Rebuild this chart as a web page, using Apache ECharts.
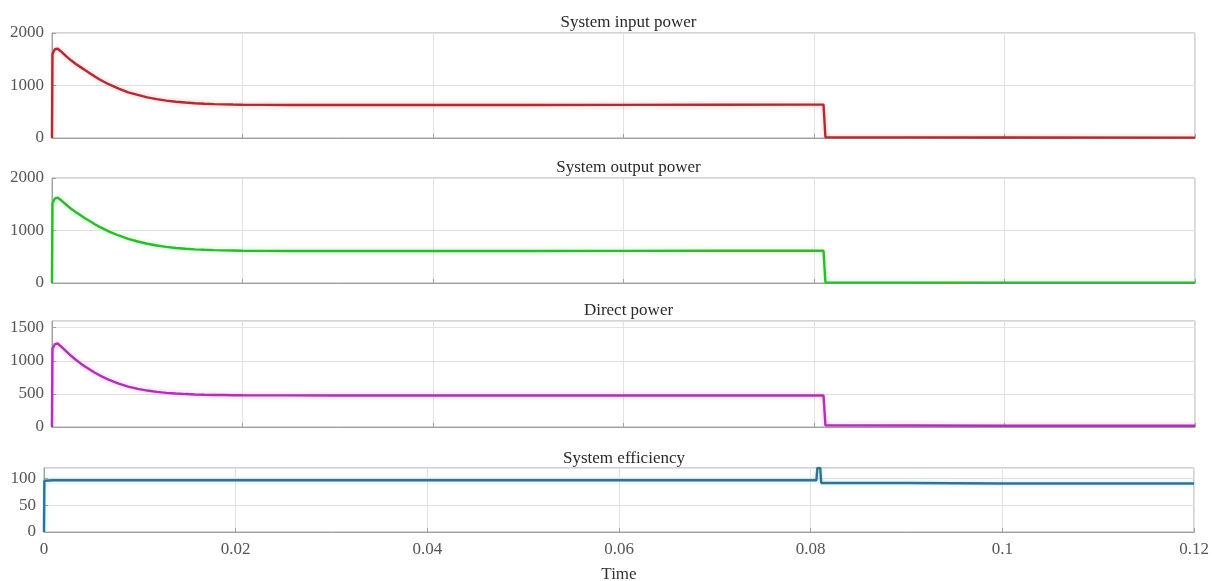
<!DOCTYPE html>
<html>
<head>
<meta charset="utf-8">
<script src="https://cdn.jsdelivr.net/npm/echarts@6/dist/echarts.min.js"></script>
<style>
html,body{margin:0;padding:0;background:#fff;}
#c{width:1214px;height:581px;}
</style>
</head>
<body>
<div id="c"></div>
<script>
// ---- data ----
const panelTitles = ['System input power', 'System output power', 'Direct power', 'System efficiency'];
const xTicks = [0, 0.02, 0.04, 0.06, 0.08, 0.1, 0.12];

const inputPower = [
  [0,0],[0.00005,1600],[0.0003,1690],[0.0006,1700],[0.001,1640],[0.0015,1555],[0.002,1480],
  [0.0025,1410],[0.003,1350],[0.0035,1290],[0.004,1230],[0.0045,1170],[0.005,1115],[0.006,1020],
  [0.007,940],[0.008,870],[0.009,820],[0.01,775],[0.011,740],[0.012,712],[0.013,690],[0.014,675],
  [0.015,663],[0.016,653],[0.017,646],[0.018,641],[0.019,637],[0.02,634],[0.022,631],[0.025,629],
  [0.03,628],[0.04,628],[0.05,629],[0.06,631],[0.07,633],[0.08,635],[0.081,635],[0.0812,15],
  [0.09,12],[0.1,10],[0.12,8]
];
const outputPower = [
  [0,0],[0.00005,1520],[0.0003,1610],[0.0006,1625],[0.001,1570],[0.0015,1490],[0.002,1415],
  [0.0025,1350],[0.003,1290],[0.0035,1230],[0.004,1175],[0.0045,1120],[0.005,1070],[0.006,980],
  [0.007,905],[0.008,840],[0.009,790],[0.01,748],[0.011,715],[0.012,688],[0.013,667],[0.014,652],
  [0.015,641],[0.016,632],[0.017,626],[0.018,621],[0.019,618],[0.02,615],[0.022,612],[0.025,610],
  [0.03,609],[0.04,609],[0.05,610],[0.06,611],[0.07,613],[0.08,614],[0.081,614],[0.0812,10],
  [0.09,8],[0.1,6],[0.12,5]
];
const directPower = [
  [0,0],[0.00005,1180],[0.0003,1250],[0.0006,1260],[0.001,1210],[0.0015,1140],[0.002,1075],
  [0.0025,1015],[0.003,960],[0.0035,910],[0.004,865],[0.0045,820],[0.005,780],[0.006,710],
  [0.007,655],[0.008,610],[0.009,575],[0.01,550],[0.011,530],[0.012,515],[0.013,505],[0.014,497],
  [0.015,491],[0.016,487],[0.017,484],[0.018,482],[0.019,480],[0.02,479],[0.025,477],[0.03,476],
  [0.05,475],[0.07,475],[0.081,475],[0.0812,25],[0.09,22],[0.1,20],[0.12,18]
];
const efficiency = [
  [0,0],[0.00004,96],[0.001,97],[0.02,97],[0.04,97],[0.06,97],[0.08,97],[0.0806,97],
  [0.0807,120],[0.0810,120],[0.0811,92],[0.09,92],[0.1,91],[0.12,91]
];

const yMax = [2000, 2000, 1600, 120];
const yInterval = [1000, 1000, 500, 50];
const lineColors = ['#a2323a', '#38b238', '#a43aa8', '#3a6e8c'];
const glowColors = ['rgba(255,70,70,0.45)', 'rgba(80,255,80,0.5)', 'rgba(255,80,255,0.5)', 'rgba(90,220,255,0.55)'];
const seriesData = [inputPower, outputPower, directPower, efficiency];

// ---- layout ----
const grids = [
  {left: 52, right: 19, top: 33, height: 105},
  {left: 52, right: 19, top: 178, height: 105},
  {left: 52, right: 19, top: 321, height: 106},
  {left: 44, right: 20, top: 468, height: 64}
];
const titleY = [9, 154, 297, 445];
const serif = 'Liberation Serif';

const option = {
  backgroundColor: '#fff',
  animation: false,
  title: panelTitles.map((t, i) => ({
    text: t,
    left: (grids[i].left + (1214 - grids[i].right)) / 2,
    top: titleY[i],
    textAlign: 'center',
    textStyle: {fontFamily: serif, fontSize: 17, fontWeight: 'normal', color: '#2a2a2a'}
  })),
  grid: grids.map(g => Object.assign({show: true, borderColor: '#a8a8a8', borderWidth: 1,
    backgroundColor: '#fff', containLabel: false, outerBoundsMode: 'none'}, g)),
  xAxis: grids.map((g, i) => ({
    type: 'value', gridIndex: i, min: 0, max: 0.12, interval: 0.02,
    axisLine: {show: true, onZero: false, lineStyle: {color: '#a0a0a0'}},
    axisTick: {show: true, inside: true, length: 4, lineStyle: {color: '#a0a0a0'}},
    splitLine: {show: true, lineStyle: {color: '#e2e2e2'}},
    axisLabel: {
      show: i === 3, fontFamily: serif, fontSize: 17, color: '#555', margin: 9,
      formatter: v => { const k = xTicks.find(t => Math.abs(t - v) < 1e-9); return k === undefined ? '' : String(k); }
    },
    name: i === 3 ? 'Time' : '',
    nameLocation: 'middle', nameGap: 34,
    nameTextStyle: {fontFamily: serif, fontSize: 17, color: '#333'}
  })),
  yAxis: grids.map((g, i) => ({
    type: 'value', gridIndex: i, min: 0, max: yMax[i], interval: yInterval[i],
    axisLine: {show: true, lineStyle: {color: '#a0a0a0'}},
    axisTick: {show: true, inside: true, length: 4, lineStyle: {color: '#a0a0a0'}},
    splitLine: {show: true, lineStyle: {color: '#e2e2e2'}},
    axisLabel: {fontFamily: serif, fontSize: 17, color: '#555', margin: 8,
      showMaxLabel: i !== 2 && i !== 3, formatter: v => String(v)}
  })),
  series: seriesData.map((d, i) => ({
    type: 'line', xAxisIndex: i, yAxisIndex: i, data: d,
    showSymbol: false, symbol: 'none', clip: true,
    lineStyle: {color: lineColors[i], width: 2.4, shadowColor: glowColors[i], shadowBlur: 4}
  }))
};

const chart = echarts.init(document.getElementById('c'), null, {renderer: 'canvas'});
chart.setOption(option);
</script>
</body>
</html>
